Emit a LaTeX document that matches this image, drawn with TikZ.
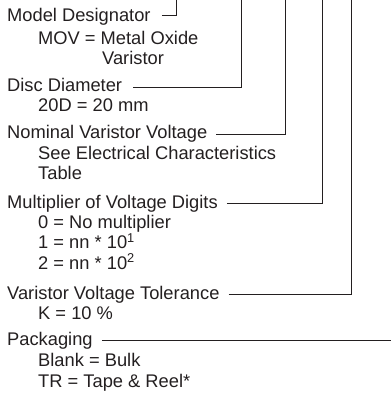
\documentclass[tikz,border=0pt]{standalone}
\usepackage{fontspec}
\setmainfont{Liberation Sans}
\definecolor{ink}{HTML}{231F20}
\begin{document}
\begin{tikzpicture}[x=1pt,y=-1pt,
  txt/.style={anchor=base west, inner sep=0pt, font=\fontsize{18.3}{20}\selectfont, text=ink},
  conn/.style={draw=ink, line width=0.9pt}]
\useasboundingbox (0,0) rectangle (391,394);
% headings and values
\node[txt] (md) at (7,21.5) {Model Designator};
\node[txt] (mov) at (38,44.5) {MOV = Metal Oxide};
\node[txt] (movb) at (102,64) {Varistor};
\node[txt] (dd) at (7,91) {Disc Diameter};
\node[txt] (ddv) at (38,111.5) {20D = 20 mm};
\node[txt] (nv) at (7,138.5) {Nominal Varistor Voltage};
\node[txt] (nvv) at (38,159) {See Electrical Characteristics};
\node[txt] (nvb) at (38,179.5) {Table};
\node[txt] (mu) at (7,208) {Multiplier of Voltage Digits};
\node[txt] (mu0) at (38,228.5) {0 = No multiplier};
\node[txt] (mu1) at (38,248.5) {1 = nn * 10\textsuperscript{1}};
\node[txt] (mu2) at (38,269) {2 = nn * 10\textsuperscript{2}};
\node[txt] (vt) at (7,299) {Varistor Voltage Tolerance};
\node[txt] (vtv) at (38,319.5) {K = 10 \%};
\node[txt] (pk) at (7,345.5) {Packaging};
\node[txt] (pk1) at (38,366.5) {Blank = Bulk};
\node[txt] (pk2) at (38,387.5) {TR = Tape \& Reel*};
% connector ends at the top / right edge
\coordinate (emd) at (176,0);
\coordinate (edd) at (241.7,0);
\coordinate (env) at (285.3,0);
\coordinate (emu) at (322.7,0);
\coordinate (evt) at (351.7,0);
\coordinate (epk) at (391,340.5);
% connectors
\draw[conn] ([shift={(11,-6.5)}]md.base east) -| (emd);
\draw[conn] ([shift={(11,-4)}]dd.base east) -| (edd);
\draw[conn] ([shift={(9,-4.5)}]nv.base east) -| (env);
\draw[conn] ([shift={(9,-4.5)}]mu.base east) -| (emu);
\draw[conn] ([shift={(9,-5)}]vt.base east) -| (evt);
\draw[conn] ([shift={(9,-5)}]pk.base east) -- (epk);
\end{tikzpicture}
\end{document}
